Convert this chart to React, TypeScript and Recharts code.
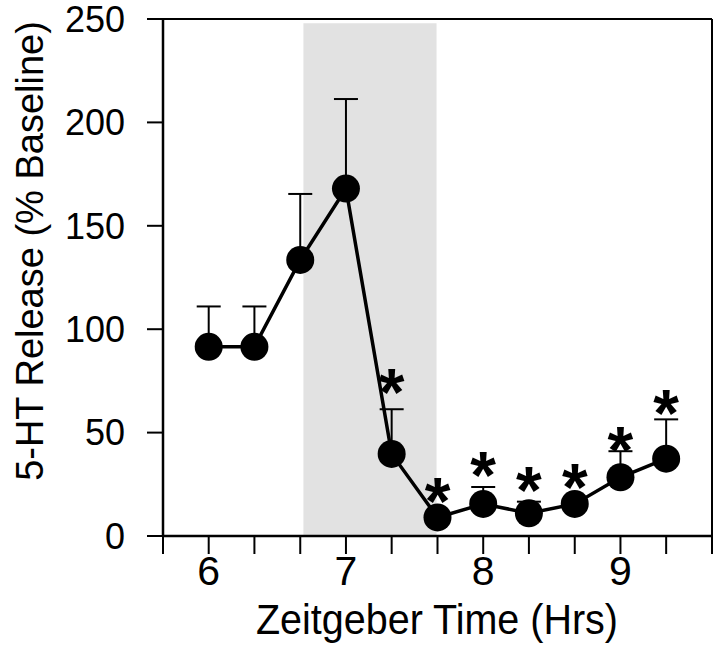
import {
  ComposedChart,
  Line,
  XAxis,
  YAxis,
  ErrorBar,
  ReferenceArea,
  ReferenceLine,
  Label,
} from "recharts";

// Zeitgeber time of each sample (hours)
const hours = [6, 6.333, 6.667, 7, 7.333, 7.667, 8, 8.333, 8.667, 9, 9.333];
// 5-HT release, % of baseline (mean)
const release = [91.5, 91.5, 133.5, 168, 39.7, 9, 15.5, 11, 15.5, 28.4, 37.4];
// top of the SEM bar
const upperSem = [111, 111, 165.4, 211.3, 61.3, 9, 23.7, 16.6, 15.5, 41, 56.4];
// where the significance asterisk sits (null = not significant)
const asteriskAt = [null, null, null, null, 77, 24, 36.7, 29.5, 31, 48.8, 66.6];

const xTicks = [5.667, 6, 6.333, 6.667, 7, 7.333, 7.667, 8, 8.333, 8.667, 9, 9.333, 9.667];
const yTicks = [0, 50, 100, 150, 200, 250];
const darkPhase = [6.69, 7.66];

const FONT = "'Liberation Sans', Arial, Helvetica, sans-serif";

const data = hours.map((t, i) => ({
  t,
  release: release[i],
  err: [0, upperSem[i] - release[i]],
  star: asteriskAt[i],
}));

function Asterisk(props: any) {
  const { cx, cy, payload, index } = props;
  if (payload?.star == null || cy == null) return <g key={`s${index}`} />;
  return (
    <text
      key={`s${index}`}
      x={cx}
      y={cy + 38}
      textAnchor="middle"
      fontSize={66}
      fontWeight="bold"
      fontFamily={FONT}
      fill="#000"
    >
      *
    </text>
  );
}

export default function App() {
  return (
    <div style={{ position: "absolute", left: 0, top: 0, background: "#fff" }}>
      <ComposedChart width={720} height={647} data={data} margin={{ top: 19, right: 8, bottom: 0, left: 0 }}>
        <ReferenceArea x1={darkPhase[0]} x2={darkPhase[1]} y1={0} y2={248} fill="#e2e2e2" fillOpacity={1} stroke="none" />
        <ReferenceLine y={250} stroke="#000" strokeWidth={2} />
        <ReferenceLine x={9.667} stroke="#000" strokeWidth={2} />
        <XAxis
          dataKey="t"
          type="number"
          domain={[5.667, 9.667]}
          allowDataOverflow
          ticks={xTicks}
          interval={0}
          height={111}
          tickSize={18}
          tickMargin={2}
          tickFormatter={(v: number) => (Math.abs(v - Math.round(v)) < 0.01 ? String(Math.round(v)) : "")}
          tick={{ fill: "#000", fontSize: 41, fontFamily: FONT }}
          tickLine={{ stroke: "#000", strokeWidth: 2 }}
          axisLine={{ stroke: "#000", strokeWidth: 2.5 }}
        >
          <Label
            content={() => (
              <text x={437} y={634} textAnchor="middle" fontSize={42} fontFamily={FONT} fill="#000" textLength={362} lengthAdjust="spacingAndGlyphs">
                Zeitgeber Time (Hrs)
              </text>
            )}
          />
        </XAxis>
        <YAxis
          type="number"
          domain={[0, 250]}
          ticks={yTicks}
          interval={0}
          width={163}
          tickSize={16}
          tickMargin={22}
          tick={{ fill: "#000", fontSize: 36, fontFamily: FONT }}
          tickLine={{ stroke: "#000", strokeWidth: 2 }}
          axisLine={{ stroke: "#000", strokeWidth: 2.5 }}
        >
          <Label
            content={() => (
              <text
                x={43}
                y={251}
                transform="rotate(-90, 43, 251)"
                textAnchor="middle"
                fontSize={38}
                fontFamily={FONT}
                fill="#000"
              >
                5-HT Release (% Baseline)
              </text>
            )}
          />
        </YAxis>
        <Line
          dataKey="release"
          stroke="#000"
          strokeWidth={3.5}
          dot={{ r: 14, fill: "#000", stroke: "#000", strokeWidth: 0 }}
          activeDot={false}
          isAnimationActive={false}
        >
          <ErrorBar dataKey="err" direction="y" width={12} stroke="#000" strokeWidth={2} />
        </Line>
        <Line
          dataKey="star"
          stroke="none"
          dot={Asterisk}
          activeDot={false}
          legendType="none"
          isAnimationActive={false}
        />
      </ComposedChart>
    </div>
  );
}
